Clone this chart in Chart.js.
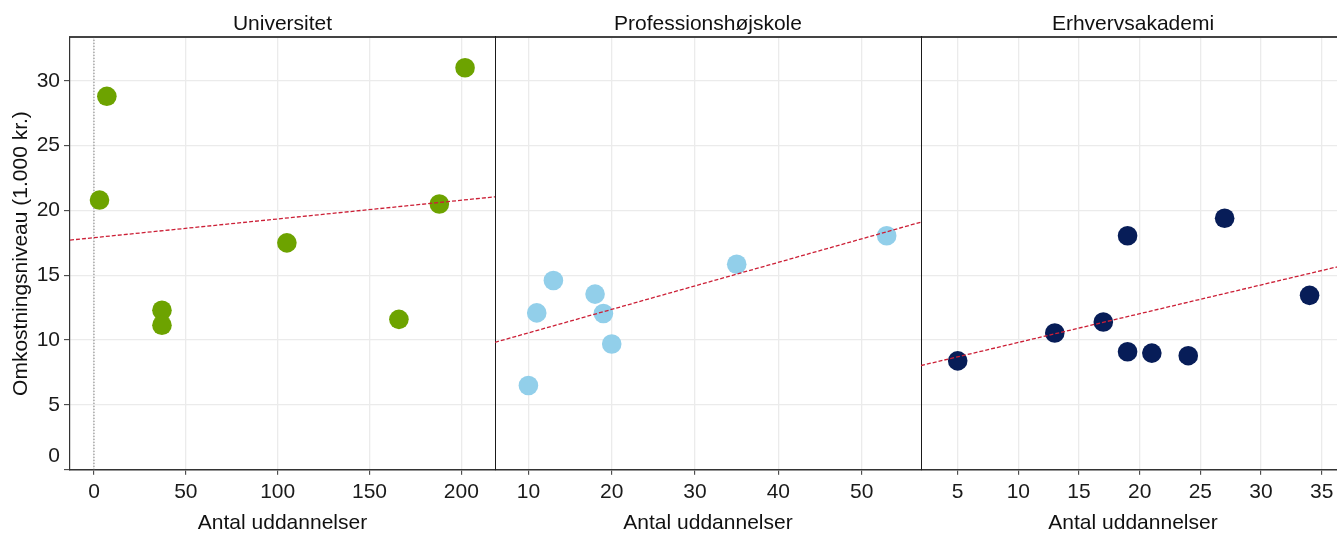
<!DOCTYPE html>
<html>
<head>
<meta charset="utf-8">
<script src="https://cdn.jsdelivr.net/npm/chart.js@4/dist/chart.umd.min.js"></script>
<style>
body { margin:0; background:#fff; overflow:hidden; width:1337px; height:534px; position:relative; }
canvas { position:absolute; top:0; }
</style>
</head>
<body>
<canvas id="c_uni" width="495" height="534" style="left:0px"></canvas>
<canvas id="c_ph" width="426" height="534" style="left:495px"></canvas>
<canvas id="c_ea" width="424" height="534" style="left:921px"></canvas>
<script>
// tekster
var panelTitles=['Universitet','Professionshøjskole','Erhvervsakademi'];
var xTitle='Antal uddannelser';
var yTitle='Omkostningsniveau (1.000 kr.)';

// Universitet
var uniX=[3,7,37,37,105,166,188,202];
var uniY=[20.8,28.8,12.3,11.15,17.5,11.6,20.5,31.0];
// Professionshøjskole
var phX=[10,11,13,18,19,20,35,53];
var phY=[6.5,12.1,14.6,13.55,12.05,9.7,15.85,18.05];
// Erhvervsakademi
var eaX=[5,13,17,19,19,21,24,27,34];
var eaY=[8.4,10.55,11.4,18.05,9.1,9.0,8.8,19.4,13.45];

// regressionslinjer (endepunkter aflæst)
var trendUniX=[-13.06,218.3], trendUniY=[17.71,21.05];
var trendPhX=[5.99,57.12],    trendPhY=[9.83,19.10];
var trendEaX=[1.975,36.92],   trendEaY=[8.04,15.79];

// lodret stiplet linje ved x=0 (kun Universitet)
var zeroLineX=[0,0], zeroLineY=[0,33.35];

// akser
var yTicks=[0,5,10,15,20,25,30];
var uniTicks=[0,50,100,150,200];
var phTicks=[10,20,30,40,50];
var eaTicks=[5,10,15,20,25,30,35];

var colors=['#6da300','#92cfea','#071d58'];
var trendColor='#cc1f36';
var gridColor='#ebebeb';
var lineColor='#333333';

Chart.defaults.font.family='"Liberation Sans", Arial, Helvetica, sans-serif';
Chart.defaults.font.size=21;
Chart.defaults.color='#1a1a1a';

function toPoints(xs,ys) {
	var out=[];
	for (var i=0;i<xs.length;i++) { out.push({x:xs[i],y:ys[i]}); }
	return out;
}

function noPad(s) { s.paddingLeft=0; s.paddingRight=0; s.paddingTop=0; s.paddingBottom=0; }

function drawPanel(canvasId,idx,xs,ys,tX,tY,xTicks,xMin,xMax,first) {
	var datasets=[
		{ data: toPoints(tX,tY), showLine:true, borderColor:trendColor, borderWidth:1.3, borderDash:[4,2],
		  pointRadius:0, order:0 },
		{ data: toPoints(xs,ys), showLine:false, pointRadius:9.8, pointBorderWidth:0,
		  pointBackgroundColor:colors[idx], backgroundColor:colors[idx], order:1 }
	];
	if (first) {
		datasets.push({ data: toPoints(zeroLineX,zeroLineY), showLine:true, borderColor:'#666666',
		  borderWidth:1, borderDash:[1,2], pointRadius:0, order:2 });
	}

	// panel 2 og 3: skillelinje i venstre kant (halvdelen klippes af canvas)
	var yAxis={
		type:'linear', position:'left', min:0, max:33.35,
		afterBuildTicks: function(s){ s.ticks=yTicks.map(function(v){return {value:v};}); },
		grid:{ color:gridColor, lineWidth:1.3, drawTicks:first, tickLength:6, tickColor:lineColor, tickWidth:1 },
		border:{ display:true, color: first ? lineColor : '#1a1a1a', width: first ? 1.2 : 2 },
		ticks:{ display:first, padding:4, font:{size:21, lineHeight:1.33},
			callback:function(v){ return v===0 ? ['0',''] : String(v); } },
		title:{ display:first, text:yTitle, color:'#111', font:{size:21, lineHeight:1}, padding:{top:10.5,bottom:0} },
		afterFit: function(s){ s.width = first ? 70 : 0; noPad(s); }
	};

	new Chart(document.getElementById(canvasId), {
		type:'scatter',
		data:{ datasets:datasets },
		options:{
			responsive:false, animation:false,
			layout:{ padding:0, autoPadding:false },
			plugins:{
				legend:{display:false}, tooltip:{enabled:false},
				title:{ display:true, text:panelTitles[idx], fullSize:false, color:'#111',
					font:{size:21, weight:'normal', lineHeight:1}, padding:{top:14,bottom:2.3} }
			},
			scales:{
				x:{ type:'linear', position:'bottom', min:xMin, max:xMax,
					afterBuildTicks: function(s){ s.ticks=xTicks.map(function(v){return {value:v};}); },
					grid:{ color:gridColor, lineWidth:1.3, drawTicks:true, tickLength:5, tickColor:lineColor, tickWidth:1 },
					border:{ display:true, color:lineColor, width:1.5 },
					ticks:{ padding:4.4, font:{size:21} },
					title:{ display:true, text:xTitle, color:'#111', font:{size:21, lineHeight:1}, padding:0 },
					afterFit: function(s){ s.height=64.2; noPad(s); }
				},
				xTop:{ axis:'x', type:'linear', position:'top', display:true,
					grid:{display:false}, ticks:{display:false},
					border:{ display:true, color:'#444444', width:2 },
					afterFit: function(s){ s.height=0; noPad(s); }
				},
				y:yAxis
			}
		}
	});
}

drawPanel('c_uni',0,uniX,uniY,trendUniX,trendUniY,uniTicks,-13.06,218.3,true);
drawPanel('c_ph',1,phX,phY,trendPhX,trendPhY,phTicks,5.99,57.12,false);
drawPanel('c_ea',2,eaX,eaY,trendEaX,trendEaY,eaTicks,1.975,36.92,false);
</script>
</body>
</html>
